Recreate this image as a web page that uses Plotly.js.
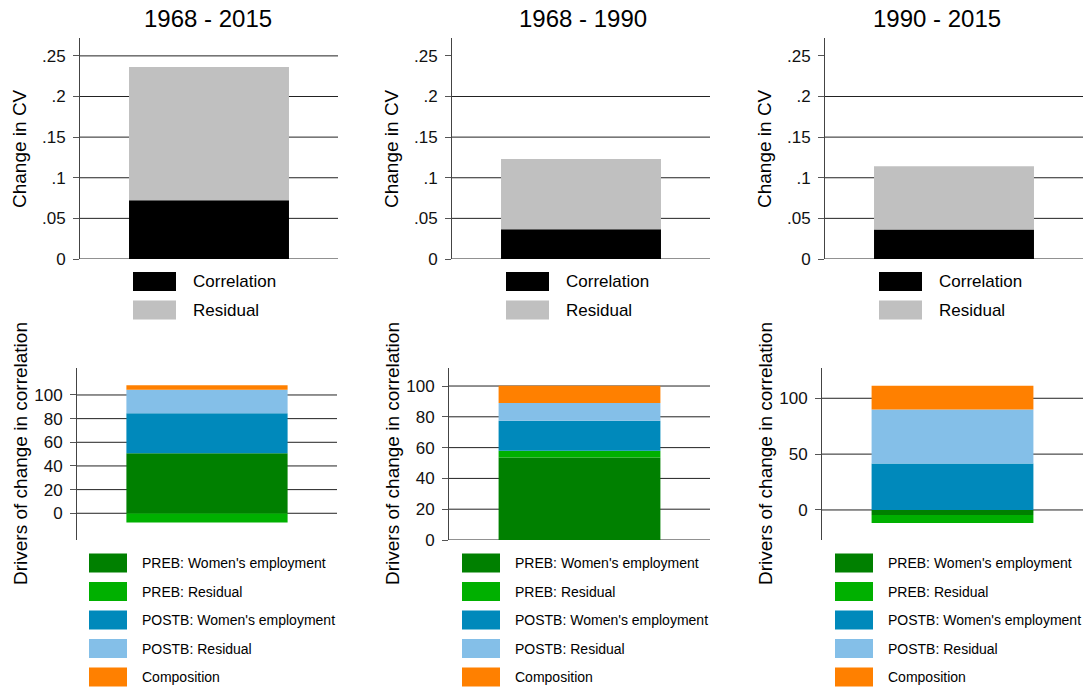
<!DOCTYPE html>
<html>
<head>
<meta charset="utf-8">
<script src="https://cdn.plot.ly/plotly-3.0.1.min.js"></script>
<style>html,body{margin:0;padding:0;background:#fff;}#chart{width:1086px;height:691px;}</style>
</head>
<body>
<div id="chart"></div>
<script>
// ---- data ----
const periods = ['1968 - 2015', '1968 - 1990', '1990 - 2015'];
const cvCorrelation = [0.0724, 0.0366, 0.0362];
const cvResidual = [0.1640, 0.0864, 0.0781];
const prebWomen = [50.7, 53.5, -4.5];
const prebResidual = [-7.9, 4.5, -7.2];
const postbWomen = [33.8, 19.5, 41.5];
const postbResidual = [20.0, 11.5, 48.4];
const composition = [3.7, 11.2, 21.4];

const topLegendLabels = ['Correlation', 'Residual'];
const bottomLegendLabels = ['PREB: Women\'s employment', 'PREB: Residual', 'POSTB: Women\'s employment', 'POSTB: Residual', 'Composition'];
const topTickVals = [0, 0.05, 0.1, 0.15, 0.2, 0.25];
const topTickText = ['0', '.05', '.1', '.15', '.2', '.25'];
const topGrid = [[0, 0.05, 0.1, 0.15, 0.2, 0.25], [0, 0.05, 0.1, 0.15, 0.2], [0, 0.05, 0.1, 0.15, 0.2]];
const bottomTicks = [[0, 20, 40, 60, 80, 100], [0, 20, 40, 60, 80, 100], [0, 50, 100]];
const yTitleTop = 'Change in CV';
const yTitleBottom = 'Drivers of change in correlation';

// ---- styles ----
const topColors = ['#000000', '#c0c0c0'];
const bottomColors = ['#008000', '#00b000', '#0089bb', '#84bfe8', '#ff8000'];
const W = 1086, H = 691;
const FONT = 'Liberation Sans, Arial, Helvetica, sans-serif';
const px = v => v / W;
const py = v => 1 - v / H;

const topXDom = [[80, 338], [452, 710], [825, 1083]];
const botXDom = [[77, 337], [449, 710], [822, 1083]];
const topYDom = [38, 259];
const botYDom = [368, 540];
const botRanges = [[-22.6, 122.8], [0, 111.7], [-26.9, 127.1]];
const titleX = [208, 583, 937];
const yTitleX = [20, 392, 765];
const legOffset = [0, 373, 746];

const traces = [];
const layout = {
  width: W, height: H,
  margin: {l: 0, r: 0, t: 0, b: 0},
  paper_bgcolor: '#fff', plot_bgcolor: 'rgba(0,0,0,0)',
  barmode: 'relative',
  showlegend: false,
  font: {family: FONT, color: '#000'},
  shapes: [], annotations: []
};

function yAxisBase(dom, range, tv, tt) {
  return {
    domain: [py(dom[1]), py(dom[0])],
    range: range, tickmode: 'array', tickvals: tv, ticktext: tt,
    showgrid: false, zeroline: false,
    showline: true, linecolor: '#444', linewidth: 1,
    ticks: 'outside', ticklen: 6, tickcolor: '#555', tickwidth: 1,
    ticklabelstandoff: 4,
    tickfont: {size: 17, family: FONT, color: '#111'}
  };
}
function xAxisBase(dom) {
  return {
    domain: [px(dom[0]), px(dom[1])], range: [-0.5, 0.5],
    showgrid: false, zeroline: false, showline: false,
    showticklabels: false, ticks: '', fixedrange: true
  };
}

for (let i = 0; i < 3; i++) {
  const nT = i + 1, nB = i + 4;
  const sT = nT === 1 ? '' : String(nT);
  const sB = String(nB);
  // top panel
  layout['xaxis' + sT] = xAxisBase(topXDom[i]);
  layout['yaxis' + sT] = Object.assign(yAxisBase(topYDom, [0, 0.272], topTickVals, topTickText), {anchor: 'x' + sT});
  layout['xaxis' + sT].anchor = 'y' + sT;
  const topVals = [cvCorrelation[i], cvResidual[i]];
  topVals.forEach((v, k) => traces.push({
    type: 'bar', x: [0], y: [v], width: 0.62, name: topLegendLabels[k],
    xaxis: 'x' + sT, yaxis: 'y' + sT,
    marker: {color: topColors[k], line: {width: 0}}, hoverinfo: 'name+y'
  }));
  topGrid[i].forEach(v => layout.shapes.push({
    type: 'line', xref: 'x' + sT + ' domain', yref: 'y' + sT, x0: 0, x1: 1, y0: v, y1: v,
    line: {color: '#222', width: 1}, layer: 'below'
  }));

  // bottom panel
  layout['xaxis' + sB] = Object.assign(xAxisBase(botXDom[i]), {anchor: 'y' + sB});
  layout['yaxis' + sB] = Object.assign(yAxisBase(botYDom, botRanges[i], bottomTicks[i], bottomTicks[i].map(String)), {anchor: 'x' + sB});
  const botVals = [prebWomen[i], prebResidual[i], postbWomen[i], postbResidual[i], composition[i]];
  botVals.forEach((v, k) => traces.push({
    type: 'bar', x: [0], y: [v], width: 0.62, name: bottomLegendLabels[k],
    xaxis: 'x' + sB, yaxis: 'y' + sB,
    marker: {color: bottomColors[k], line: {width: 0}}, hoverinfo: 'name+y'
  }));
  bottomTicks[i].forEach(v => layout.shapes.push({
    type: 'line', xref: 'x' + sB + ' domain', yref: 'y' + sB, x0: 0, x1: 1, y0: v, y1: v,
    line: {color: '#222', width: 1}, layer: 'below'
  }));

  // titles
  layout.annotations.push({
    xref: 'paper', yref: 'paper', x: px(titleX[i]), y: py(18), text: periods[i],
    showarrow: false, xanchor: 'center', yanchor: 'middle',
    font: {size: 24, family: FONT, color: '#000'}
  });
  layout.annotations.push({
    xref: 'paper', yref: 'paper', x: px(yTitleX[i]), y: py(149), text: yTitleTop,
    textangle: -90, showarrow: false, xanchor: 'center', yanchor: 'middle',
    font: {size: 19, family: FONT, color: '#000'}
  });
  layout.annotations.push({
    xref: 'paper', yref: 'paper', x: px(yTitleX[i]), y: py(454), text: yTitleBottom,
    textangle: -90, showarrow: false, xanchor: 'center', yanchor: 'middle',
    font: {size: 19, family: FONT, color: '#000'}
  });

  // top legend
  const off = legOffset[i];
  topLegendLabels.forEach((lab, k) => {
    const y0 = 272 + k * 28.5, y1 = y0 + 19;
    layout.shapes.push({type: 'rect', xref: 'paper', yref: 'paper',
      x0: px(133 + off), x1: px(176 + off), y0: py(y1), y1: py(y0),
      fillcolor: topColors[k], line: {width: 0}});
    layout.annotations.push({xref: 'paper', yref: 'paper', x: px(191 + off), y: py((y0 + y1) / 2),
      text: lab, showarrow: false, xanchor: 'left', yanchor: 'middle',
      font: {size: 17, family: FONT, color: '#000'}});
  });
  // bottom legend
  bottomLegendLabels.forEach((lab, k) => {
    const y0 = 553.5 + k * 28.5, y1 = y0 + 19;
    layout.shapes.push({type: 'rect', xref: 'paper', yref: 'paper',
      x0: px(89 + off), x1: px(127 + off), y0: py(y1), y1: py(y0),
      fillcolor: bottomColors[k], line: {width: 0}});
    layout.annotations.push({xref: 'paper', yref: 'paper', x: px(140 + off), y: py((y0 + y1) / 2),
      text: lab, showarrow: false, xanchor: 'left', yanchor: 'middle',
      font: {size: 14, family: FONT, color: '#000'}});
  });
}

Plotly.newPlot('chart', traces, layout, {displayModeBar: false, staticPlot: true});
</script>
</body>
</html>
